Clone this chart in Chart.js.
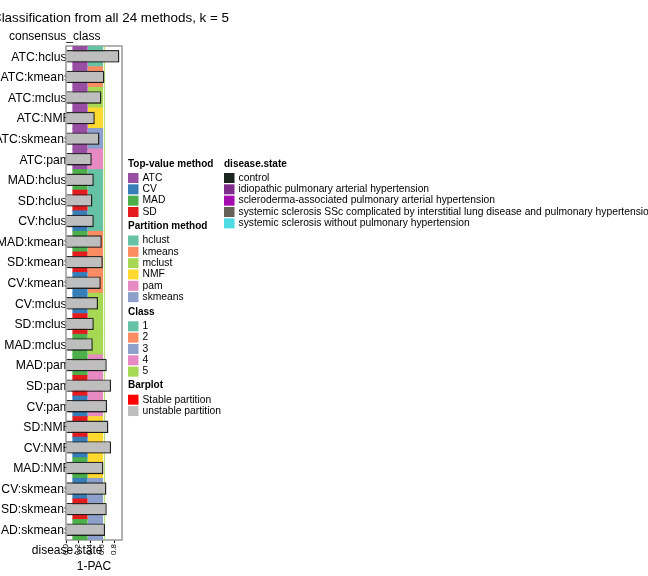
<!DOCTYPE html>
<html><head><meta charset="utf-8">
<script src="https://cdn.jsdelivr.net/npm/chart.js@4"></script>
<style>html,body{margin:0;padding:0;background:#fff}canvas{display:block}</style>
</head><body>
<canvas id="c" width="648" height="576"></canvas>
<script>
// ---------------- data ----------------
const methods = [
  'ATC:hclust','ATC:kmeans','ATC:mclust','ATC:NMF','ATC:skmeans','ATC:pam',
  'MAD:hclust','SD:hclust','CV:hclust','MAD:kmeans','SD:kmeans','CV:kmeans',
  'CV:mclust','SD:mclust','MAD:mclust','MAD:pam','SD:pam','CV:pam',
  'SD:NMF','CV:NMF','MAD:NMF','CV:skmeans','SD:skmeans','MAD:skmeans'
];
const topValueMethod = [
  'ATC','ATC','ATC','ATC','ATC','ATC',
  'MAD','SD','CV','MAD','SD','CV',
  'CV','SD','MAD','MAD','SD','CV',
  'SD','CV','MAD','CV','SD','MAD'
];
const partitionMethod = [
  'hclust','kmeans','mclust','NMF','skmeans','pam',
  'hclust','hclust','hclust','kmeans','kmeans','kmeans',
  'mclust','mclust','mclust','pam','pam','pam',
  'NMF','NMF','NMF','skmeans','skmeans','skmeans'
];
const onePAC = [
  0.888, 0.638, 0.588, 0.478, 0.555, 0.428,
  0.462, 0.438, 0.462, 0.595, 0.612, 0.578,
  0.533, 0.462, 0.445, 0.678, 0.750, 0.683,
  0.705, 0.750, 0.622, 0.672, 0.678, 0.650
];
const xTicks = [0, 0.2, 0.4, 0.6, 0.8];

const topValueLevels = ['ATC','CV','MAD','SD'];
const partitionLevels = ['hclust','kmeans','mclust','NMF','pam','skmeans'];
const classLevels = ['1','2','3','4','5'];
const barplotLevels = ['Stable partition','unstable partition'];
const diseaseLevels = [
  'control',
  'idiopathic pulmonary arterial hypertension',
  'scleroderma-associated pulmonary arterial hypertension',
  'systemic sclerosis SSc complicated by interstitial lung disease and pulmonary hypertension',
  'systemic sclerosis without pulmonary hypertension'
];

// ---------------- styles ----------------
const FAMILY = "'Liberation Sans', Arial, Helvetica, sans-serif";
const TV_COL = {ATC:'#984EA3', CV:'#377EB8', MAD:'#4DAF4A', SD:'#E41A1C'};
const PM_COL = {hclust:'#66C2A5', kmeans:'#FC8D62', mclust:'#A6D854', NMF:'#FFD92F', pam:'#E78AC3', skmeans:'#8DA0CB'};
const CLASS_COL = ['#66C2A5','#FC8D62','#8DA0CB','#E78AC3','#A6D854'];
const BAR_COL = ['#FF0000','#BEBEBE'];
const DIS_COL = ['#1C2620','#7E2C8C','#A40BB0','#666058','#4DDCE4'];
const COL1 = [0.112, 0.355];
const COL2 = [0.372, 0.612];
const LINE = [0.636, 0.646];

const overlay = {
  id: 'overlay',
  beforeDatasetsDraw(chart) {
    const {ctx, chartArea: a} = chart;
    const ys = chart.scales.y;
    ctx.save();
    // row labels (drawn under the bars, so the bars hide their ends)
    ctx.fillStyle = '#000';
    ctx.font = '12.2px ' + FAMILY;
    ctx.textAlign = 'right';
    ctx.textBaseline = 'middle';
    chart.data.labels.forEach((lab, i) => {
      ctx.fillText(lab, a.left + 4, ys.getPixelForTick(i) + 1);
    });
    ctx.strokeStyle = '#999999';
    ctx.lineWidth = 1.5;
    ctx.strokeRect(a.left, a.top, a.right - a.left, a.bottom - a.top);
    ctx.restore();
  },
  beforeDatasetDraw(chart, args) {
    if (args.index === 0) {
      const ctx = chart.ctx;
      ctx.save();
      ctx.shadowColor = 'rgba(0,0,0,0.28)';
      ctx.shadowOffsetX = 1.5;
      ctx.shadowOffsetY = 1.5;
      ctx.shadowBlur = 0;
    }
  },
  afterDatasetDraw(chart, args) {
    if (args.index === 0) chart.ctx.restore();
  },
  afterDraw(chart) {
    const ctx = chart.ctx;
    ctx.save();
    ctx.fillStyle = '#000';
    ctx.textBaseline = 'middle';
    // title
    ctx.font = '13.4px ' + FAMILY;
    ctx.textAlign = 'right';
    ctx.fillText('Classification from all 24 methods, k = 5', 229, 18.5);
    // heatmap names
    ctx.font = '12px ' + FAMILY;
    ctx.textAlign = 'left';
    ctx.fillText('consensus_class', 9, 37);
    ctx.textAlign = 'right';
    ctx.fillText('disease.state', 102.5, 551);

    // legends
    const step = 11.33;
    function group(x, yTitle, title, items, colors) {
      ctx.textAlign = 'left';
      ctx.font = 'bold 10px ' + FAMILY;
      ctx.fillStyle = '#000';
      ctx.fillText(title, x, yTitle);
      ctx.font = '10.3px ' + FAMILY;
      items.forEach((t, i) => {
        const cy = yTitle + 14 + i * step;
        ctx.fillStyle = colors[i];
        ctx.fillRect(x, cy - 5, 10.5, 10);
        ctx.fillStyle = '#000';
        ctx.fillText(t, x + 14.5, cy);
      });
    }
    group(128, 164, 'Top-value method', topValueLevels, topValueLevels.map(m => TV_COL[m]));
    group(128, 226.5, 'Partition method', partitionLevels, partitionLevels.map(m => PM_COL[m]));
    group(128, 312.3, 'Class', classLevels, CLASS_COL);
    group(128, 385.7, 'Barplot', barplotLevels, BAR_COL);
    group(224, 164, 'disease.state', diseaseLevels, DIS_COL);
    ctx.restore();
  }
};

new Chart(document.getElementById('c'), {
  type: 'bar',
  data: {
    labels: methods,
    datasets: [
      {
        label: '1-PAC', data: onePAC,
        backgroundColor: '#BEBEBE', borderColor: '#2b2b2b', borderWidth: 1.3,
        barPercentage: 0.6, categoryPercentage: 1, grouped: false, order: 0
      },
      {
        label: 'Top-value method', data: methods.map(() => COL1),
        backgroundColor: topValueMethod.map(m => TV_COL[m]), borderWidth: 0,
        barPercentage: 1, categoryPercentage: 1, grouped: false, order: 1
      },
      {
        label: 'Partition method', data: methods.map(() => COL2),
        backgroundColor: partitionMethod.map(m => PM_COL[m]), borderWidth: 0,
        barPercentage: 1, categoryPercentage: 1, grouped: false, order: 2
      },
      {
        label: 'consensus_class', data: methods.map(() => LINE),
        backgroundColor: 'rgba(166,216,84,0.75)', borderWidth: 0,
        barPercentage: 1, categoryPercentage: 1, grouped: false, order: 3
      }
    ]
  },
  options: {
    responsive: false, animation: false, indexAxis: 'y',
    devicePixelRatio: 1,
    layout: {padding: {left: 0, top: 46, right: 526, bottom: 0}},
    plugins: {legend: {display: false}, tooltip: {enabled: false}, title: {display: false}},
    scales: {
      x: {
        type: 'linear', min: 0, max: 0.933, position: 'bottom',
        afterFit(s) { s.height = 36; },
        afterBuildTicks(s) { s.ticks = xTicks.map(v => ({value: v})); },
        ticks: {
          font: {size: 8, family: FAMILY}, color: '#000',
          minRotation: 90, maxRotation: 90, padding: 1, autoSkip: false,
          callback: v => Number(v).toFixed(1)
        },
        grid: {drawOnChartArea: false, drawTicks: true, tickLength: 3, color: '#000', lineWidth: 1},
        border: {display: false},
        title: {display: true, text: '1-PAC', color: '#000', font: {size: 12, family: FAMILY}, padding: {top: 0, bottom: 2}}
      },
      y: {
        type: 'category',
        afterFit(s) { s.width = 66; },
        ticks: {display: false},
        grid: {display: false},
        border: {display: false}
      }
    }
  },
  plugins: [overlay]
});
</script>
</body></html>
